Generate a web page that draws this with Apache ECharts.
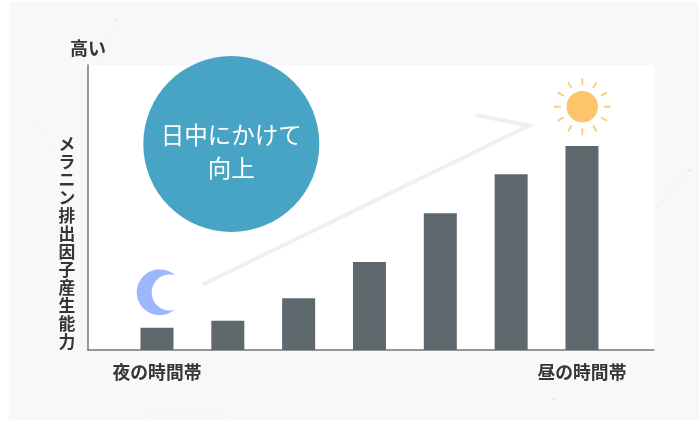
<!DOCTYPE html>
<html lang="ja">
<head>
<meta charset="utf-8">
<title>メラニン排出因子産生能力</title>
<script src="https://cdn.jsdelivr.net/npm/echarts@6/dist/echarts.min.js"></script>
<style>
  html, body { margin: 0; padding: 0; background: #ffffff; }
  #panel { position: absolute; left: 9px; top: 2px; width: 690px; height: 418px; background: #f8f8fa; }
  #chart { position: absolute; left: 0; top: 0; width: 699px; height: 421px; }
</style>
</head>
<body>
<div id="panel"></div>
<div id="chart"></div>
<script>
// Seven time slots from night to daytime
const timeSlots = [1, 2, 3, 4, 5, 6, 7];
// Relative production ability, percent of the axis height
const abilityValues = [7.8, 10.3, 18.2, 30.9, 48, 61.7, 71.6];
const slotLabels = { 1: '夜の時間帯', 7: '昼の時間帯' };
const labelledSlots = [1, 7];
const axisTopLabel = '高い';
const axisTitle = 'メラニン排出因子産生能力';
const badgeLines = ['日中にかけて', '向上'];

const FONT = '"Noto Sans CJK JP", "Noto Sans", sans-serif';
const INK = '#333536';

// Sun: disc plus twelve short rays
const sunX = 582.3, sunY = 106.7;
const sunRays = Array.from({ length: 12 }, (_, i) => {
  const a = (i * Math.PI) / 6;
  return {
    type: 'line',
    shape: {
      x1: sunX + Math.cos(a) * 21.5, y1: sunY + Math.sin(a) * 21.5,
      x2: sunX + Math.cos(a) * 28.5, y2: sunY + Math.sin(a) * 28.5
    },
    style: { stroke: '#fbd083', lineWidth: 2 }
  };
});

const chart = echarts.init(document.getElementById('chart'), null, { renderer: 'canvas' });
chart.setOption({
  animation: false,
  backgroundColor: 'transparent',
  grid: {
    left: 88, right: 45, top: 65, bottom: 71,
    show: true, backgroundColor: '#ffffff', borderWidth: 0
  },
  xAxis: {
    type: 'value', min: 0.026, max: 8.017,
    splitLine: { show: false },
    axisTick: { show: false },
    axisLine: { show: true, lineStyle: { color: '#737678', width: 1.5 } },
    axisLabel: {
      show: true,
      customValues: labelledSlots,
      formatter: (v) => slotLabels[v] || '',
      margin: 13, fontFamily: FONT, fontWeight: 700, fontSize: 17.8, color: INK
    }
  },
  yAxis: {
    type: 'value', min: 0, max: 100,
    name: axisTopLabel,
    nameLocation: 'end', nameGap: 8,
    nameTextStyle: { fontFamily: FONT, fontWeight: 700, fontSize: 18, color: INK, align: 'center' },
    splitLine: { show: false },
    axisTick: { show: false },
    axisLabel: { show: false },
    axisLine: { show: true, onZero: false, lineStyle: { color: '#737678', width: 1.5 } }
  },
  series: [{
    type: 'bar',
    barWidth: 33,
    data: timeSlots.map((s, i) => [s, abilityValues[i]]),
    itemStyle: { color: '#5f686d' },
    silent: true
  }],
  graphic: [
    // Faint background strokes on the tinted panel
    { type: 'polyline', silent: true, shape: { points: [[116, 20], [108, 40], [101, 62]] }, style: { stroke: '#f2f2f5', lineWidth: 1, fill: null } },
    { type: 'polyline', silent: true, shape: { points: [[690, 170], [672, 188], [656, 210]] }, style: { stroke: '#eeeef2', lineWidth: 1, fill: null } },
    { type: 'polyline', silent: true, shape: { points: [[140, 418], [165, 411], [205, 412], [240, 419]] }, style: { stroke: '#f3f3f6', lineWidth: 1, fill: null } },
    { type: 'polyline', silent: true, shape: { points: [[12, 105], [40, 130], [62, 160]] }, style: { stroke: '#f4f4f7', lineWidth: 1, fill: null } },
    { type: 'circle', silent: true, shape: { cx: 116, cy: 20, r: 1.5 }, style: { fill: '#e9e9ed' } },
    { type: 'circle', silent: true, shape: { cx: 690, cy: 170, r: 1.5 }, style: { fill: '#e4e4e9' } },
    { type: 'circle', silent: true, shape: { cx: 554, cy: 399, r: 1.5 }, style: { fill: '#e6e6ea' } },

    // Rising arrow behind the bars
    {
      type: 'polyline', silent: true, z: 1,
      shape: { points: [[203, 284.5], [529, 125.5], [476, 115]] },
      style: { stroke: '#efeff5', lineWidth: 4, fill: null, lineJoin: 'miter', miterLimit: 10 }
    },

    // Badge
    { type: 'circle', silent: true, z: 5, shape: { cx: 231.3, cy: 144, r: 88 }, style: { fill: '#48a4c4' } },
    {
      type: 'text', silent: true, z: 6, x: 231.3, y: 135,
      style: { text: badgeLines[0], fill: '#ffffff', font: '400 23.5px ' + FONT, align: 'center', verticalAlign: 'middle' }
    },
    {
      type: 'text', silent: true, z: 6, x: 231.3, y: 168,
      style: { text: badgeLines[1], fill: '#ffffff', font: '400 23.5px ' + FONT, align: 'center', verticalAlign: 'middle' }
    },

    // Crescent moon above the first bar
    { type: 'circle', silent: true, z: 5, shape: { cx: 159.7, cy: 292.3, r: 23 }, style: { fill: '#9db7fb' } },
    { type: 'circle', silent: true, z: 6, shape: { cx: 169.7, cy: 292.5, r: 18 }, style: { fill: '#ffffff' } },

    // Sun above the last bar
    { type: 'circle', silent: true, z: 5, shape: { cx: sunX, cy: sunY, r: 15.7 }, style: { fill: '#fdc46c' } },
    { type: 'group', silent: true, z: 5, children: sunRays.map((r) => Object.assign({ z: 5 }, r)) },

    // Vertical axis title, one character per line
    {
      type: 'text', silent: true, z: 6, x: 67, y: 351,
      style: {
        text: axisTitle.split('').join('\n'),
        fill: INK, font: '700 16.8px ' + FONT, lineHeight: 18,
        align: 'center', verticalAlign: 'bottom'
      }
    }
  ]
});
</script>
</body>
</html>
